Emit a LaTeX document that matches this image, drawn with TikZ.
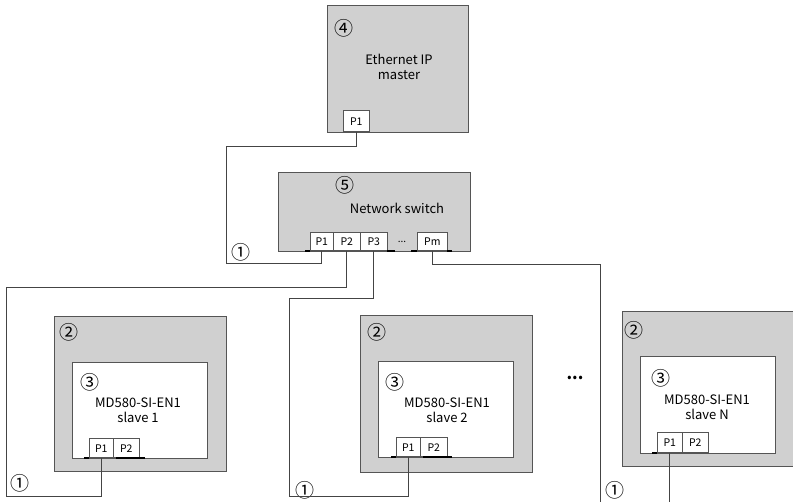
\documentclass[tikz,border=0pt]{standalone}
\usepackage{fontspec}
\setmainfont{Noto Sans CJK SC}
\definecolor{boxgray}{HTML}{D0D0D0}
\definecolor{boxedge}{HTML}{555555}
\definecolor{wirecol}{HTML}{444444}
\begin{document}
\begin{tikzpicture}[x=1pt,y=-1pt,
  graybox/.style={draw=boxedge, fill=boxgray, line width=0.9pt, inner sep=0pt},
  whitebox/.style={draw=boxedge, fill=white, line width=0.8pt, inner sep=0pt},
  port/.style={draw=boxedge, fill=white, line width=0.6pt, inner sep=0pt, font=\fontsize{10.5}{12}\selectfont},
  wire/.style={draw=wirecol, line width=0.7pt},
  num/.style={inner sep=0pt, font=\fontsize{19}{19}\selectfont},
  lbl/.style={inner sep=0pt, align=center, font=\fontsize{13}{15.5}\selectfont},
  tickline/.style={line width=1.6pt, black}]
\useasboundingbox (0,0) rectangle (793,502);

% Master
\node[graybox, minimum width=141pt, minimum height=127pt, anchor=north west] (master) at (327,5) {};
\node[num] (n4) at (344,28) {④};
\node[lbl] (mtext) at (399,67) {Ethernet IP\\master};
\node[port, minimum width=26pt, minimum height=21pt, anchor=south west] (mP1) at (343,132) {P1};

% Switch
\node[graybox, minimum width=192pt, minimum height=79pt, anchor=north west] (switch) at (278,172) {};
\node[num] (n5) at (345,185) {⑤};
\node[lbl] (stext) at (397,208) {Network switch};
\node[port, minimum width=23pt, minimum height=18pt, anchor=south west] (sP1) at (310,251) {P1};
\node[port, minimum width=27pt, minimum height=18pt, anchor=south west] (sP2) at (333,251) {P2};
\node[port, minimum width=27pt, minimum height=18pt, anchor=south west] (sP3) at (360,251) {P3};
\node[inner sep=0pt, font=\fontsize{10}{12}\selectfont] (sdots) at (402,242) {...};
\node[port, minimum width=30pt, minimum height=18pt, anchor=south west] (sPm) at (417,251) {Pm};
\draw[tickline] (305,251) -- (310,251);
\draw[tickline] (387,251) -- (395,251);
\draw[tickline] (411,251) -- (417,251);
\draw[tickline] (447,251) -- (452,251);
\node[num] (c1a) at (241,252) {①};

% Slave 1
\node[graybox, minimum width=172pt, minimum height=155pt, anchor=north west] (s1out) at (54,316) {};
\node[whitebox, minimum width=135pt, minimum height=96pt, anchor=north west] (s1in) at (72,362) {};
\node[num] (s1n2) at (69,332) {②};
\node[num] (s1n3) at (90,382) {③};
\node[lbl] (s1text) at (138,410) {MD580-SI-EN1\\slave 1};
\node[port, minimum width=24pt, minimum height=19pt, anchor=south west] (a1) at (89,458) {P1};
\node[port, minimum width=26pt, minimum height=19pt, anchor=south west] (a2) at (113,458) {P2};
\draw[tickline] (84,458) -- (89,458);
\draw[tickline] (116,458) -- (145,458);
\node[num] (c1b) at (20,483) {①};

% Slave 2
\node[graybox, minimum width=172pt, minimum height=157pt, anchor=north west] (s2out) at (360,315) {};
\node[whitebox, minimum width=135pt, minimum height=96pt, anchor=north west] (s2in) at (378,361) {};
\node[num] (s2n2) at (377,332) {②};
\node[num] (s2n3) at (395,382) {③};
\node[lbl] (s2text) at (447,410) {MD580-SI-EN1\\slave 2};
\node[port, minimum width=24pt, minimum height=19pt, anchor=south west] (b1) at (396,457) {P1};
\node[port, minimum width=27pt, minimum height=19pt, anchor=south west] (b2) at (420,457) {P2};
\draw[tickline] (391,457) -- (396,457);
\draw[tickline] (423,457) -- (452,457);
\node[num] (c1c) at (305,490) {①};

% dots between
\node[inner sep=0pt, font=\fontsize{16}{16}\selectfont\bfseries] (mdots) at (575,378) {...};

% Slave N
\node[graybox, minimum width=171pt, minimum height=155pt, anchor=north west] (snout) at (622,311) {};
\node[whitebox, minimum width=135pt, minimum height=97pt, anchor=north west] (snin) at (640,356) {};
\node[num] (snn2) at (634,330) {②};
\node[num] (snn3) at (661,378) {③};
\node[lbl] (sntext) at (707,407) {MD580-SI-EN1\\slave N};
\node[port, minimum width=25pt, minimum height=20pt, anchor=south west] (n1) at (657,453) {P1};
\node[port, minimum width=26pt, minimum height=20pt, anchor=south west] (n2) at (682,453) {P2};
\draw[tickline] (652,453) -- (657,453);
\node[num] (c1d) at (615,490) {①};

% wires
\coordinate (endPm) at (600,502);
\coordinate (endN) at (n1.south |- endPm);
\draw[wire] (mP1.south) |- (226,146) |- (sP1.south |- 0,263) -- (sP1.south);
\draw[wire] (sP2.south) |- (6,287) |- (a1.south |- 0,496) -- (a1.south);
\draw[wire] (sP3.south) |- (289,298) |- (b1.south |- 0,496) -- (b1.south);
\draw[wire] (sPm.south) |- (600,264) -- (endPm);
\draw[wire] (n1.south) -- (endN);
\end{tikzpicture}
\end{document}
